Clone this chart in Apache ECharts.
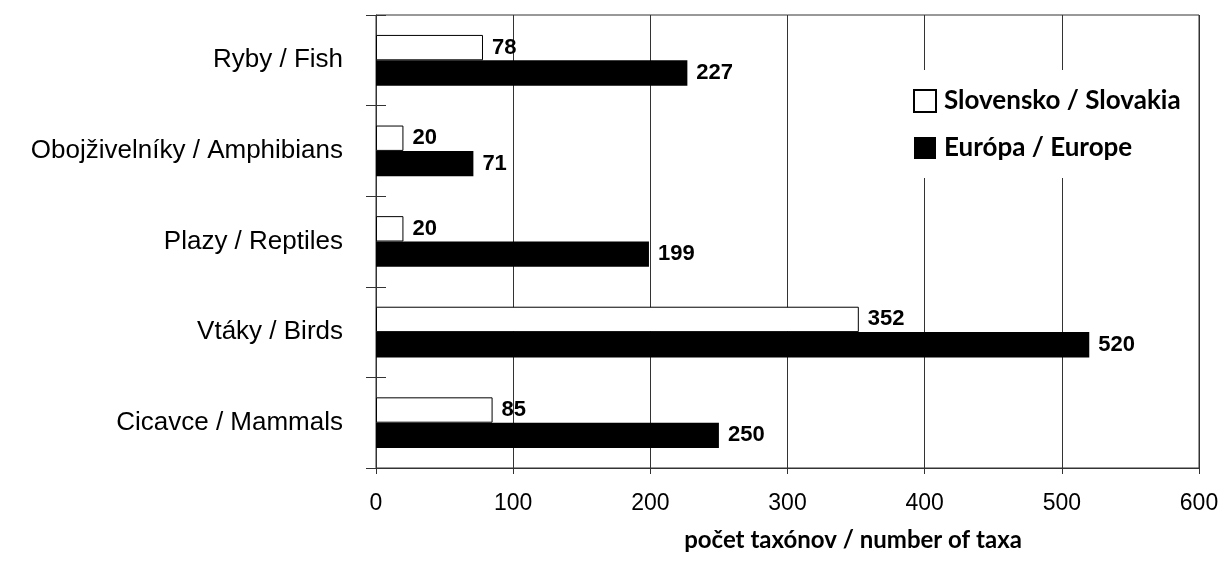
<!DOCTYPE html>
<html>
<head>
<meta charset="utf-8">
<script src="https://cdn.jsdelivr.net/npm/echarts@6/dist/echarts.min.js"></script>
<style>
html,body{margin:0;padding:0;background:#fff;}
#chart{width:1223px;height:561px;}
</style>
</head>
<body>
<div id="chart"></div>
<script>
const categories = ['Ryby / Fish', 'Obojživelníky / Amphibians', 'Plazy / Reptiles', 'Vtáky / Birds', 'Cicavce / Mammals'];
const slovakia = [78, 20, 20, 352, 85];
const europe = [227, 71, 199, 520, 250];
const seriesNames = ['Slovensko / Slovakia', 'Európa / Europe'];
const axisTitle = 'počet taxónov / number of taxa';

const chart = echarts.init(document.getElementById('chart'), null, {renderer: 'canvas'});
const lineColor = '#333';
const valueLabel = {
  show: true, position: 'right', distance: 9,
  color: '#000', fontFamily: 'Liberation Sans, Arial, sans-serif',
  fontWeight: 'bold', fontSize: 22
};
chart.setOption({
  animation: false,
  backgroundColor: '#fff',
  grid: {
    left: 376, right: 24, top: 15, bottom: 93,
    show: true, borderColor: lineColor, borderWidth: 1, backgroundColor: 'transparent'
  },
  legend: {
    orient: 'vertical',
    left: 905, top: 70,
    padding: [18, 8, 17, 8],
    backgroundColor: '#fff',
    itemWidth: 22, itemHeight: 22, itemGap: 21,
    icon: 'rect',
    textStyle: {
      fontFamily: 'Lato, sans-serif', fontWeight: 'bold', fontSize: 26,
      color: '#000', lineHeight: 22, padding: [0, 0, 0, 3]
    },
    data: seriesNames
  },
  xAxis: {
    type: 'value', min: 0, max: 600, interval: 100,
    name: axisTitle, nameLocation: 'middle', nameGap: 60,
    nameTextStyle: {
      fontFamily: 'Lato, sans-serif', fontWeight: 'bold', fontSize: 24,
      color: '#000', padding: [0, 0, 0, 131]
    },
    axisLine: {show: true, lineStyle: {color: lineColor, width: 1}},
    axisTick: {show: true, length: 6, lineStyle: {color: lineColor}},
    axisLabel: {
      fontFamily: 'Liberation Sans, Arial, sans-serif', fontSize: 23,
      color: '#000', margin: 24
    },
    splitLine: {show: true, lineStyle: {color: lineColor, width: 1}}
  },
  yAxis: [{
    type: 'category', inverse: true, data: categories,
    axisLine: {show: true, lineStyle: {color: lineColor, width: 1}},
    axisTick: {show: true, length: 10, lineStyle: {color: lineColor}},
    axisLabel: {
      fontFamily: 'Liberation Sans, Arial, sans-serif', fontSize: 26,
      color: '#000', margin: 33
    }
  }, {
    type: 'category', inverse: true, data: categories, position: 'left',
    axisLine: {show: false},
    axisTick: {show: true, inside: true, length: 10, lineStyle: {color: lineColor}},
    axisLabel: {show: false}
  }],
  series: [{
    name: seriesNames[0], type: 'bar', data: slovakia,
    barGap: '0%', barCategoryGap: '44%',
    itemStyle: {color: '#fff', borderColor: '#000', borderWidth: 1},
    label: valueLabel
  }, {
    name: seriesNames[1], type: 'bar', data: europe,
    barGap: '0%', barCategoryGap: '44%',
    itemStyle: {color: '#000'},
    label: valueLabel
  }]
});
</script>
</body>
</html>
